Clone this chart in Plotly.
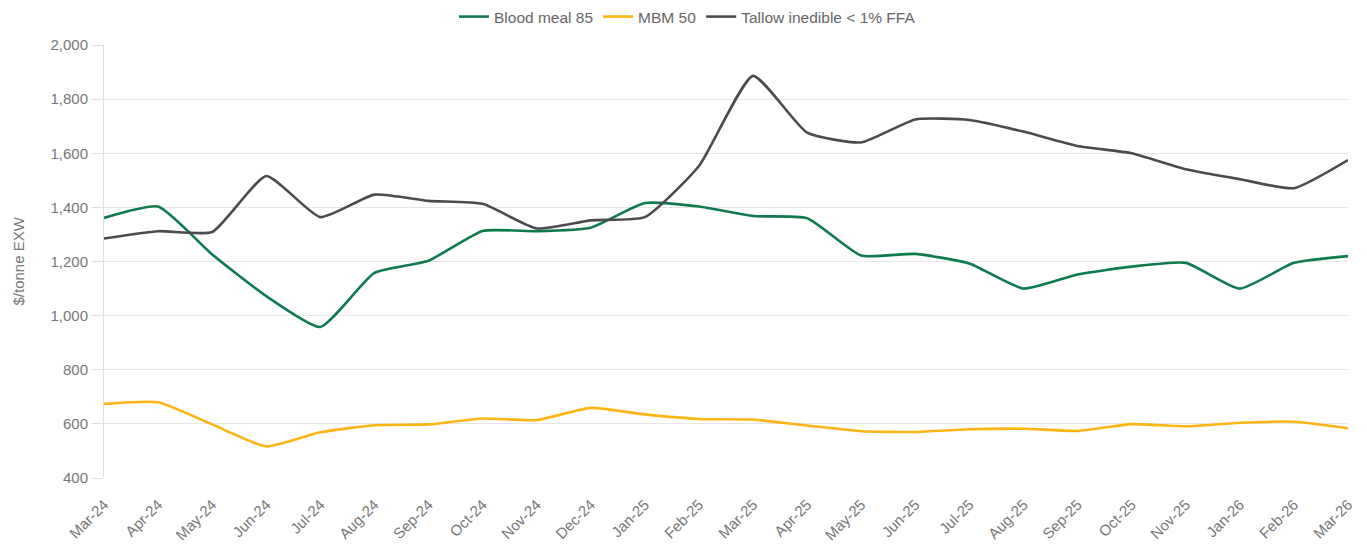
import plotly.graph_objects as go

months = ["Mar-24", "Apr-24", "May-24", "Jun-24", "Jul-24", "Aug-24", "Sep-24", "Oct-24",
          "Nov-24", "Dec-24", "Jan-25", "Feb-25", "Mar-25", "Apr-25", "May-25", "Jun-25",
          "Jul-25", "Aug-25", "Sep-25", "Oct-25", "Nov-25", "Jan-26", "Feb-26", "Mar-26"]

blood_meal = [1361, 1403, 1226, 1072, 958, 1158, 1203, 1313, 1312, 1325, 1416, 1403,
              1368, 1360, 1222, 1228, 1193, 1100, 1152, 1181, 1195, 1100, 1195, 1220]
mbm = [674, 680, 598, 517, 569, 595, 598, 620, 614, 659, 635, 618,
       616, 594, 573, 570, 580, 582, 574, 599, 591, 604, 608, 584]
tallow = [1285, 1312, 1309, 1516, 1364, 1447, 1424, 1413, 1322, 1352, 1364, 1553,
          1886, 1676, 1640, 1725, 1723, 1680, 1627, 1600, 1541, 1504, 1471, 1575]

series = [("Blood meal 85", blood_meal, "#0e7a4e"),
          ("MBM 50", mbm, "#fdb515"),
          ("Tallow inedible < 1% FFA", tallow, "#4a4a50")]

fig = go.Figure()
for name, vals, color in series:
    fig.add_trace(go.Scatter(x=months, y=vals, name=name, mode="lines",
                             line=dict(color=color, width=2.6, shape="spline", smoothing=0.5)))

W, H = 1359, 543
fig.update_layout(
    width=W, height=H,
    margin=dict(l=96, r=19, t=37, b=73),
    paper_bgcolor="white", plot_bgcolor="white",
    font=dict(family="Liberation Sans, Arial, sans-serif", size=15, color="#777777"),
    legend=dict(orientation="h", x=0.5, xanchor="center", xref="container",
                y=1 - 9 / H, yanchor="middle", yref="container",
                font=dict(size=15.5, color="#666666"), itemwidth=30),
    showlegend=True,
    annotations=[dict(text="$/tonne EXW", xref="paper", yref="paper",
                      x=(18 - 104) / 1244, y=0.5, xanchor="center", yanchor="middle",
                      textangle=-90, showarrow=False,
                      font=dict(size=15, color="#777777"))],
)
fig.update_xaxes(showgrid=False, tickangle=-45, showline=False, ticks="",
                 automargin=False, ticklabelstandoff=14,
                 range=[0, len(months) - 1], tickfont=dict(size=15, color="#777777"))
fig.update_yaxes(range=[400, 2000], dtick=200, tickformat=",", showgrid=True,
                 gridcolor="#e6e6e6", gridwidth=1, zeroline=False,
                 showline=True, linecolor="#e0e0e0", linewidth=1,
                 ticks="outside", ticklen=12, tickcolor="#e0e0e0",
                 automargin=False,
                 tickfont=dict(size=15, color="#777777"))

fig.write_html("out.html")
